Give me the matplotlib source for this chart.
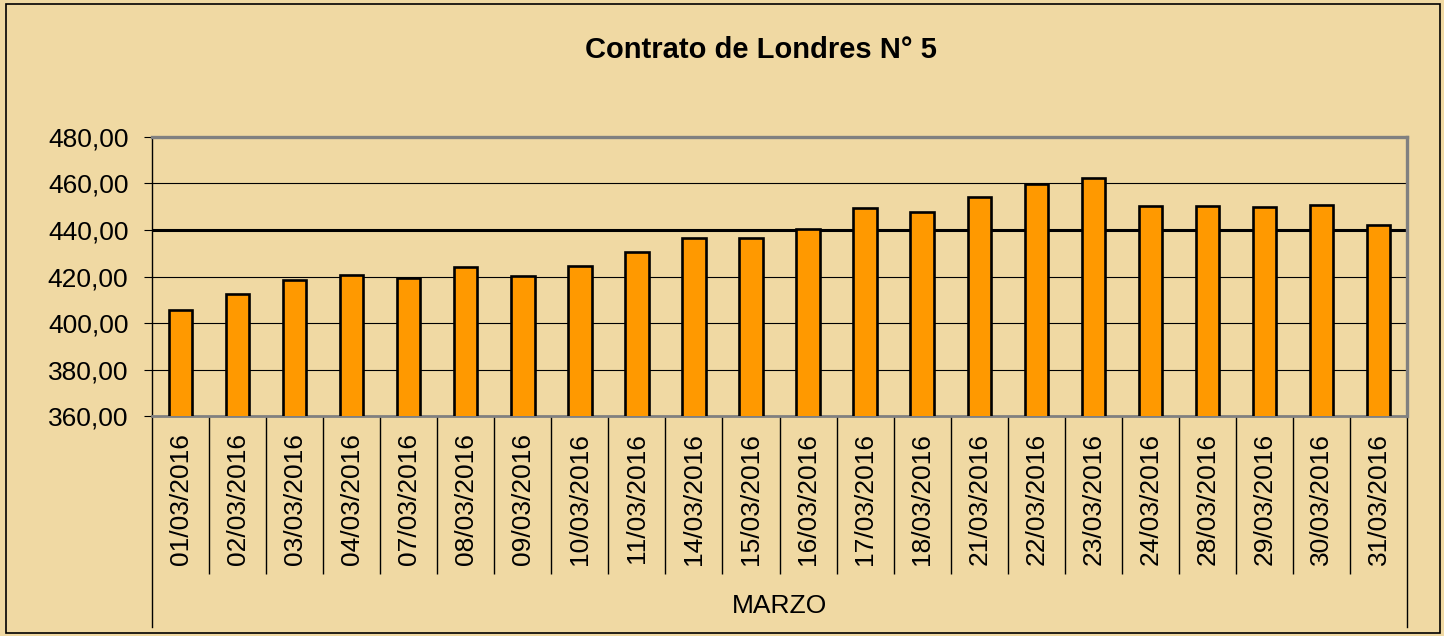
import matplotlib
matplotlib.use("Agg")
import matplotlib.pyplot as plt
from matplotlib.ticker import FuncFormatter, FixedLocator
from matplotlib.patches import Rectangle

plt.rcParams['font.family'] = ['Liberation Sans', 'DejaVu Sans']

# data
dates = ["01/03/2016", "02/03/2016", "03/03/2016", "04/03/2016", "07/03/2016",
         "08/03/2016", "09/03/2016", "10/03/2016", "11/03/2016", "14/03/2016",
         "15/03/2016", "16/03/2016", "17/03/2016", "18/03/2016", "21/03/2016",
         "22/03/2016", "23/03/2016", "24/03/2016", "28/03/2016", "29/03/2016",
         "30/03/2016", "31/03/2016"]
prices = [405.7, 412.6, 418.6, 420.7, 419.3, 424.3, 420.3, 424.7, 430.6, 436.7,
          436.7, 440.4, 449.6, 447.9, 454.3, 459.7, 462.4, 450.4, 450.4, 450.0,
          450.9, 442.2]
y_ticks = [360, 380, 400, 420, 440, 460, 480]
group_label = "MARZO"
title = "Contrato de Londres N° 5"

bg = "#F0D9A3"
bar_color = "#FF9900"

fig = plt.figure(figsize=(14.44, 6.36), dpi=100)
fig.patch.set_facecolor(bg)
fig.patches.append(Rectangle((0.004, 0.004), 0.993, 0.99, transform=fig.transFigure,
                             fill=False, edgecolor="black", linewidth=1.2))

ax = fig.add_axes([0.1053, 0.3459, 0.8691, 0.4387])
ax.set_facecolor(bg)

x = list(range(len(dates)))
ax.bar(x, prices, width=0.41, bottom=0, color=bar_color, edgecolor="black",
       linewidth=1.9, zorder=3)

ax.set_xlim(-0.5, len(dates) - 0.5)
ax.set_ylim(y_ticks[0], y_ticks[-1])

# gridlines, 440 emphasised like the original
for v in y_ticks[1:-1]:
    ax.axhline(v, color="black", linewidth=2.2 if v == 440 else 0.8, zorder=1)

ax.set_yticks(y_ticks)
ax.yaxis.set_major_formatter(FuncFormatter(lambda v, p: f"{v:.2f}".replace(".", ",")))
ax.tick_params(axis="y", length=6, width=0.8, pad=11, labelsize=19)

ax.set_xticks(x)
ax.set_xticklabels(dates, rotation=90, fontsize=19)
ax.tick_params(axis="x", which="major", length=0, pad=12)
ax.xaxis.set_minor_locator(FixedLocator([i + 0.5 for i in range(len(dates) - 1)]))
ax.tick_params(axis="x", which="minor", length=114, width=1.0, color="black")

for side in ["top", "right"]:
    ax.spines[side].set_color("#808080")
    ax.spines[side].set_linewidth(2.4)
ax.spines["bottom"].set_color("#808080")
ax.spines["bottom"].set_linewidth(2.0)
ax.spines["left"].set_color("black")
ax.spines["left"].set_linewidth(1.0)

# outer group lines for MARZO
trans = ax.get_xaxis_transform()
for xe in [-0.5, len(dates) - 0.5]:
    ax.plot([xe, xe], [0, -0.757], transform=trans, color="black", linewidth=1.0,
            clip_on=False)
ax.text((len(dates) - 1) / 2, -0.68, group_label, transform=trans, ha="center",
        va="center", fontsize=19)

fig.text(0.527, 0.921, title, ha="center", va="center", fontsize=21, fontweight="bold")

fig.savefig("out.png", dpi=100, facecolor=bg)
